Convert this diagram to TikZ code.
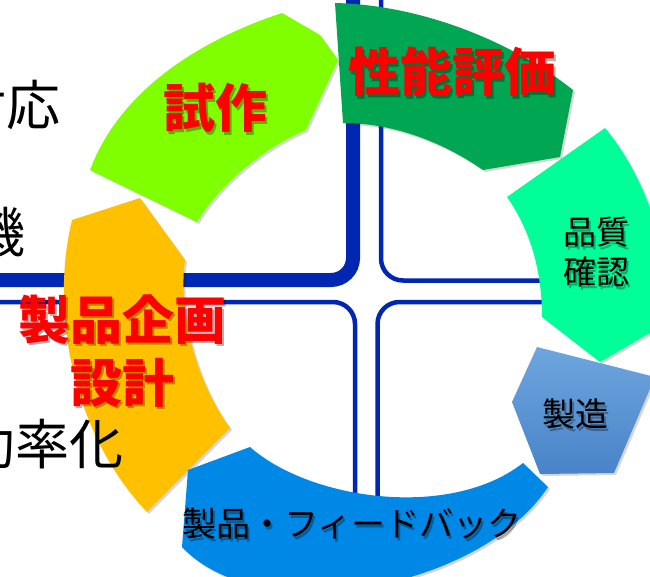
\documentclass[tikz,border=0pt]{standalone}
\usepackage{fontspec}
\setmainfont{Noto Sans CJK JP}
\definecolor{linec}{RGB}{0,38,178}
\definecolor{cgreenA}{RGB}{128,255,0}
\definecolor{cgreenB}{RGB}{0,166,81}
\definecolor{cgreenC}{RGB}{0,255,153}
\definecolor{cblueA}{RGB}{0,136,230}
\definecolor{corange}{RGB}{255,192,0}
\definecolor{csteelT}{RGB}{110,165,222}
\definecolor{csteelB}{RGB}{72,132,200}
\definecolor{cred}{RGB}{255,0,0}
\newcommand\shpOrange[1]{\path[#1] (72,220) -- (140,198) -- (185,260) .. controls (178,310) and (195,380) .. (230,428) -- (147,512) .. controls (78,440) and (48,320) .. (72,220) -- cycle;}
\newcommand\shpTrial[1]{\path[#1] (90,170) .. controls (120,90) and (200,40) .. (282,13) -- (320,35) -- (338,60) -- (306,130) .. controls (260,150) and (220,185) .. (197,222) -- cycle;}
\newcommand\shpPerf[1]{\path[#1] (335,3) .. controls (420,5) and (510,40) .. (573,90) -- (560,157) -- (483,170) .. controls (440,140) and (390,123) .. (343,123) -- cycle;}
\newcommand\shpQual[1]{\path[#1] (605,128) -- (507,197) .. controls (530,230) and (542,270) .. (542,317) -- (600,362) -- (670,321) .. controls (670,240) and (640,170) .. (605,128) -- cycle;}
\newcommand\shpMfg[1]{\path[#1] (537,347) -- (655,377) -- (614,473) -- (540,474) -- (512,402) -- cycle;}
\newcommand\shpFeed[1]{\path[#1] (188,470) -- (250,447) .. controls (310,500) and (450,520) .. (523,463) -- (548,487) .. controls (480,590) and (260,630) .. (182,547) -- cycle;}
\tikzset{
  shadowsty/.style={fill=black,fill opacity=0.16,xshift=2pt,yshift=-2pt},
  rline/.style={linec,line width=4.5pt,rounded corners=22pt},
  thickline/.style={linec,line width=14pt,rounded corners=22pt},
  redlbl/.style={inner sep=0pt,text=cred,font=\bfseries\fontsize{52}{63}\selectfont,align=center},
  redshd/.style={inner sep=0pt,text=black,text opacity=0.3,font=\bfseries\fontsize{52}{63}\selectfont,align=center},
  blklbl/.style={inner sep=0pt,text=black,font=\fontsize{33}{40}\selectfont,align=center},
  blkshd/.style={inner sep=0pt,text=black,text opacity=0.3,font=\fontsize{33}{40}\selectfont,align=center},
  sidetxt/.style={inner sep=0pt,text=black,anchor=east,font=\fontsize{54}{60}\selectfont}
}
\begin{document}
\begin{tikzpicture}[x=1pt,y=-1pt]
\useasboundingbox (0,0) rectangle (650,576);
\clip (0,0) rectangle (650,576);
\fill[white] (0,0) rectangle (650,576);
% lines
\draw[thickline] (-10,280) -- (353,280) -- (353,-10);
\draw[rline] (381,-10) -- (381,280.5) -- (660,280.5);
\draw[rline] (-10,302) -- (355,302) -- (355,520);
\draw[rline] (660,302) -- (377.5,302) -- (377.5,520);
% shapes
\shpOrange{shadowsty}\shpOrange{fill=corange}
\shpTrial{shadowsty}\shpTrial{fill=cgreenA}
\shpPerf{shadowsty}\shpPerf{fill=cgreenB}
\shpQual{shadowsty}\shpQual{fill=cgreenC}
\shpMfg{shadowsty}\shpMfg{top color=csteelT,bottom color=csteelB}
\shpFeed{shadowsty}\shpFeed{fill=cblueA}
% side texts
\node[sidetxt] (s1) at (61,105) {対応};
\node[sidetxt] (s2) at (26,232) {機};
\node[sidetxt] (s3) at (124,444) {効率化};
% labels
\node[redshd] (l1s) at (217.5,110.5) {試作};
\node[redlbl] (l1) at (215,108) {試作};
\node[redshd] (l2s) at (454.5,74.5) {性能評価};
\node[redlbl] (l2) at (452,72) {性能評価};
\node[redshd] (l3s) at (124.5,353.5) {製品企画\\設計};
\node[redlbl] (l3) at (122,351) {製品企画\\設計};
\node[blkshd] (l4s) at (598,254.5) {品質\\確認};
\node[blklbl] (l4) at (596,252) {品質\\確認};
\node[blkshd] (l5s) at (577,416.5) {製造};
\node[blklbl] (l5) at (575,414) {製造};
\node[blkshd,font=\fontsize{34}{40}\selectfont] (l6s) at (354,526.5) {製品・フィードバック};
\node[blklbl,font=\fontsize{34}{40}\selectfont] (l6) at (352,524) {製品・フィードバック};
\end{tikzpicture}
\end{document}
